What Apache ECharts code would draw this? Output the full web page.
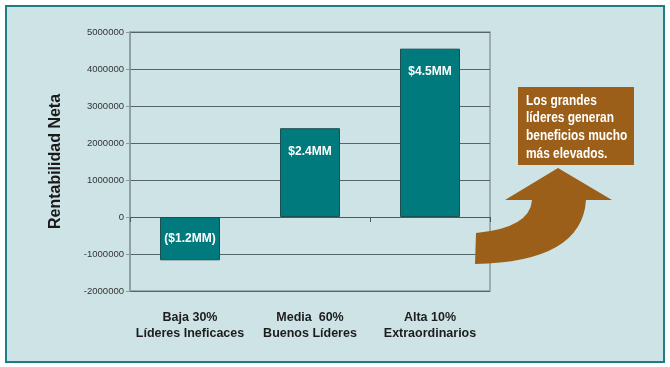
<!DOCTYPE html>
<html>
<head>
<meta charset="utf-8">
<script src="https://cdn.jsdelivr.net/npm/echarts@6/dist/echarts.min.js"></script>
<style>
html,body{margin:0;padding:0;background:#fff;}
#c{width:670px;height:367px;}
</style>
</head>
<body>
<div id="c"></div>
<script>
var categories = ['Baja 30%\nLíderes Ineficaces', 'Media  60%\nBuenos Líderes', 'Alta 10%\nExtraordinarios'];
var values = [-1170000, 2400000, 4550000];
var barLabels = ['($1.2MM)', '$2.4MM', '$4.5MM'];
var yTicks = { min: -2000000, max: 5000000, interval: 1000000 };
var axisTitle = 'Rentabilidad Neta';
var calloutText = 'Los grandes\nlíderes generan\nbeneficios mucho\nmás elevados.';

var FONT = "'Liberation Sans',Arial,sans-serif";

var CurvedArrow = echarts.graphic.extendShape({
  shape: {},
  buildPath: function (ctx) {
    ctx.moveTo(558, 168);
    ctx.lineTo(612, 200);
    ctx.lineTo(586, 200);
    ctx.quadraticCurveTo(582, 262, 475, 264);
    ctx.lineTo(476, 233);
    ctx.quadraticCurveTo(530, 228, 532, 200);
    ctx.lineTo(505, 200);
    ctx.closePath();
  }
});
echarts.graphic.registerShape('curvedArrow', CurvedArrow);

var chart = echarts.init(document.getElementById('c'));
var seriesData = values.map(function (v, i) {
  return {
    value: v,
    label: v < 0 ? { position: 'inside', formatter: barLabels[i] }
                 : { position: 'insideTop', distance: 17, formatter: barLabels[i] }
  };
});

chart.setOption({
  animation: false,
  backgroundColor: '#ffffff',
  grid: {
    left: 130, right: 180, top: 32, bottom: 76,
    show: true, borderColor: '#8d9ba0', borderWidth: 1.5, backgroundColor: 'transparent'
  },
  graphic: [
    {
      type: 'rect', z: -100, silent: true,
      shape: { x: 6, y: 6, width: 658, height: 356 },
      style: { fill: '#cde3e6', stroke: '#1e7d84', lineWidth: 2 }
    },
    {
      type: 'rect', z: 10,
      shape: { x: 518, y: 87, width: 116, height: 78 },
      style: { fill: '#9b5f1a' }
    },
    {
      type: 'text', z: 11,
      x: 526, y: 92, scaleX: 0.85,
      style: {
        text: calloutText, fill: '#ffffff',
        font: 'bold 14px ' + FONT, lineHeight: 17.7,
        align: 'left', verticalAlign: 'top'
      }
    },
    {
      type: 'curvedArrow', z: 10,
      shape: {},
      style: { fill: '#9b5f1a' }
    }
  ],
  xAxis: [
    {
      type: 'category', data: categories,
      axisLine: { onZero: true, lineStyle: { color: '#4c5a5f', width: 1 } },
      axisTick: { show: true, length: 5, lineStyle: { color: '#4c5a5f' } },
      axisLabel: { show: false },
      splitLine: { show: false }
    },
    {
      type: 'category', data: categories, position: 'bottom',
      axisLine: { show: false }, axisTick: { show: false },
      axisLabel: {
        margin: 19, color: '#1d1d1d', fontFamily: FONT, fontWeight: 'bold',
        fontSize: 12.5, lineHeight: 16, interval: 0
      }
    }
  ],
  yAxis: {
    type: 'value', min: yTicks.min, max: yTicks.max, interval: yTicks.interval,
    name: axisTitle, nameLocation: 'middle', nameRotate: 90, nameGap: 66,
    nameTextStyle: { fontSize: 16, fontWeight: 'bold', color: '#1a1a1a', fontFamily: FONT },
    axisLine: { show: true, lineStyle: { color: '#8d9ba0', width: 1.5 } },
    axisTick: { show: true, length: 4, lineStyle: { color: '#8d9ba0' } },
    axisLabel: {
      margin: 6, fontSize: 9.5, color: '#333333', fontFamily: FONT,
      formatter: function (v) { return String(v); }
    },
    splitLine: { show: true, lineStyle: { color: '#56656a', width: 1 } }
  },
  series: [{
    type: 'bar', xAxisIndex: 0, data: seriesData, barWidth: 60,
    itemStyle: { color: '#007a7c', borderColor: '#1d4f52', borderWidth: 1 },
    label: { show: true, color: '#ffffff', fontWeight: 'bold', fontSize: 12, fontFamily: FONT }
  }]
});
</script>
</body>
</html>
